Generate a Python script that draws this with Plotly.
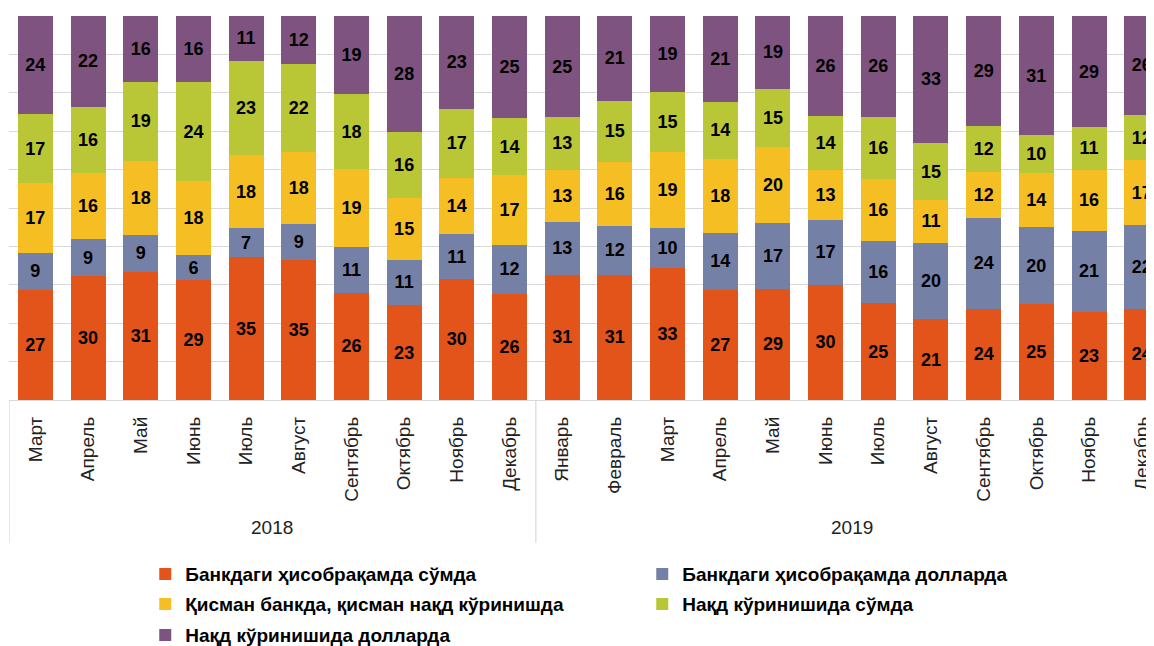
import plotly.graph_objects as go

months_2018 = ["Март", "Апрель", "Май", "Июнь", "Июль", "Август", "Сентябрь", "Октябрь", "Ноябрь", "Декабрь"]
months_2019 = ["Январь", "Февраль", "Март", "Апрель", "Май", "Июнь", "Июль", "Август", "Сентябрь", "Октябрь", "Ноябрь", "Декабрь"]
years = ["2018", "2019"]

bank_sum = [27, 30, 31, 29, 35, 35, 26, 23, 30, 26, 31, 31, 33, 27, 29, 30, 25, 21, 24, 25, 23, 24]
bank_usd = [9, 9, 9, 6, 7, 9, 11, 11, 11, 12, 13, 12, 10, 14, 17, 17, 16, 20, 24, 20, 21, 22]
partial = [17, 16, 18, 18, 18, 18, 19, 15, 14, 17, 13, 16, 19, 18, 20, 13, 16, 11, 12, 14, 16, 17]
cash_sum = [17, 16, 19, 24, 23, 22, 18, 16, 17, 14, 13, 15, 15, 14, 15, 14, 16, 15, 12, 10, 11, 12]
cash_usd = [24, 22, 16, 16, 11, 12, 19, 28, 23, 25, 25, 21, 19, 21, 19, 26, 26, 33, 29, 31, 29, 26]

series_names = [
    "Банкдаги ҳисобрақамда сўмда",
    "Банкдаги ҳисобрақамда долларда",
    "Қисман банкда, қисман нақд кўринишда",
    "Нақд кўринишида сўмда",
    "Нақд кўринишида долларда",
]
series_values = [bank_sum, bank_usd, partial, cash_sum, cash_usd]
colors = ["#E2541A", "#7580A6", "#F5BE23", "#B9C636", "#7F5380"]
legend_ids = ["legend", "legend", "legend2", "legend2", "legend3"]

month_labels = months_2018 + months_2019
xs = list(range(len(month_labels)))

FONT = "Liberation Sans, Arial, sans-serif"

fig = go.Figure()
for name, vals, col, lg in zip(series_names, series_values, colors, legend_ids):
    fig.add_trace(go.Bar(
        x=xs, y=vals, name=name, legend=lg,
        marker=dict(color=col, line=dict(width=0)),
        text=[str(v) for v in vals],
        texttemplate="%{text}",
        textposition="inside",
        insidetextanchor="middle",
        textangle=0,
        textfont=dict(family=FONT, size=18, color="black", weight="bold"),
        hoverinfo="skip",
    ))

n18 = len(months_2018)
n_all = len(month_labels)

shapes = []
for bx in [-0.5, n18 - 0.5, n_all - 0.5]:
    shapes.append(dict(type="line", xref="x", yref="paper", x0=bx, x1=bx, y0=0, y1=-0.372,
                       line=dict(color="#D9D9D9", width=1.2)))

annotations = [
    dict(x=(n18 - 1) / 2, y=-0.333, xref="x", yref="paper", text=years[0], showarrow=False,
         font=dict(family=FONT, size=19, color="#222"), yanchor="middle"),
    dict(x=(n18 + n_all - 1) / 2, y=-0.333, xref="x", yref="paper", text=years[1], showarrow=False,
         font=dict(family=FONT, size=19, color="#222"), yanchor="middle"),
]

def legend_row(y):
    return dict(orientation="h", x=0.119, y=y, xanchor="left", yanchor="top",
                entrywidth=452, entrywidthmode="pixels",
                font=dict(family=FONT, size=19, color="black", weight="bold"),
                traceorder="normal", itemclick=False, bgcolor="rgba(0,0,0,0)")

fig.update_layout(
    width=1146, height=638,
    barmode="stack", barnorm="percent", bargap=0.336,
    plot_bgcolor="white", paper_bgcolor="white",
    margin=dict(l=1, r=0, t=8, b=246, autoexpand=False),
    uniformtext=dict(minsize=18, mode="show"),
    showlegend=True,
    legend=legend_row(-0.404),
    legend2=legend_row(-0.482),
    legend3=legend_row(-0.563),
    xaxis=dict(range=[-0.5, 21.233], tickmode="array", tickvals=xs, ticktext=month_labels,
               tickangle=-90, showgrid=False, showline=True, linecolor="#D9D9D9", linewidth=1.2,
               ticks="", ticklabelstandoff=8, automargin=False,
               tickfont=dict(family=FONT, size=19, color="#222")),
    yaxis=dict(range=[0, 100], dtick=10, showticklabels=False, showgrid=True, automargin=False,
               gridcolor="#D9D9D9", gridwidth=1.2, zeroline=False, showline=False),
    shapes=shapes, annotations=annotations,
)

fig.write_html("out.html")
